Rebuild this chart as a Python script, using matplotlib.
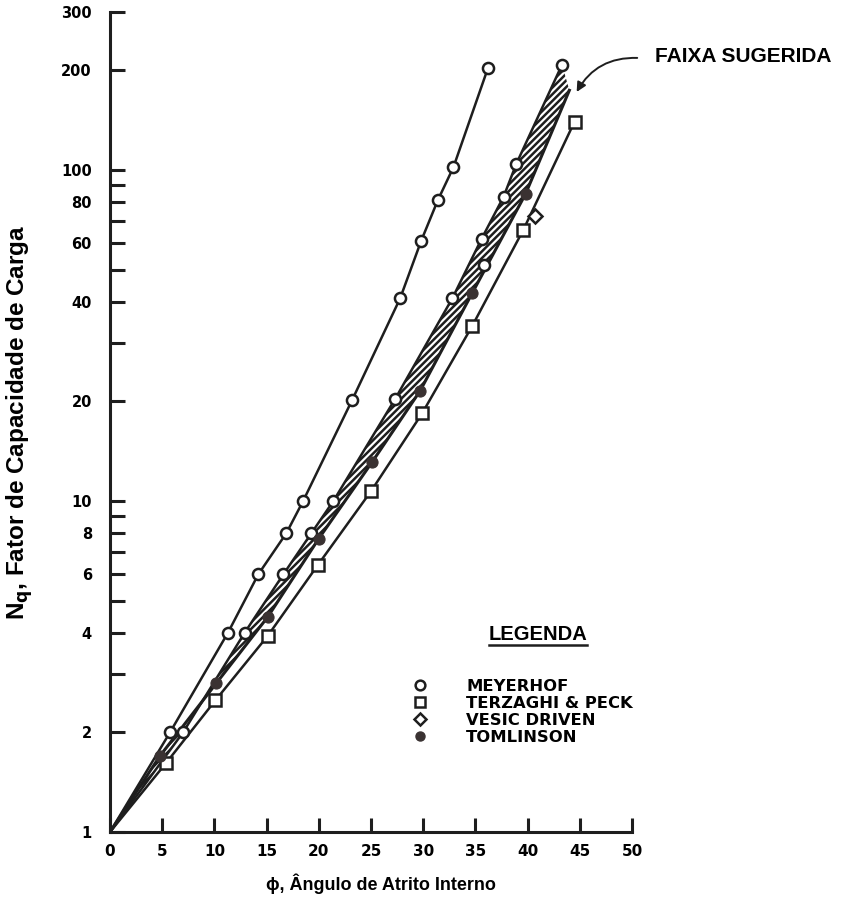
import matplotlib
matplotlib.use('Agg')
import matplotlib.pyplot as plt
from matplotlib.lines import Line2D
from matplotlib.ticker import FixedLocator, FixedFormatter, NullLocator

# ---- data ----
phi_meyerhof = [0, 5.75, 11.3, 14.2, 16.9, 18.5, 23.2, 27.8, 29.8, 31.4, 32.9, 36.2]
nq_meyerhof = [1, 2.0, 4.0, 6.0, 8.0, 10.0, 20.2, 41, 61, 81, 102, 203]

phi_band_upper = [0, 7.0, 12.9, 16.6, 19.3, 21.4, 27.3, 32.8, 35.6, 37.7, 38.9, 43.3]
nq_band_upper = [1, 2.0, 4.0, 6.0, 8.0, 10.0, 20.3, 41, 62, 83, 104, 208]

phi_tomlinson = [0, 4.8, 10.2, 15.1, 20.0, 25.1, 29.7, 34.7, 39.8]
nq_tomlinson = [1, 1.7, 2.82, 4.46, 7.7, 13.1, 21.5, 42.5, 84.6]
phi_band_end = [44.0]
nq_band_end = [174]

phi_terzaghi = [0, 5.4, 10.1, 15.1, 19.9, 25.0, 29.9, 34.7, 39.6, 44.5]
nq_terzaghi = [1, 1.62, 2.5, 3.91, 6.4, 10.7, 18.4, 33.8, 66, 140]

phi_vesic = [40.7]
nq_vesic = [72.6]

phi_extra = [35.8]
nq_extra = [51.6]

y_ticks = [1, 2, 3, 4, 5, 6, 7, 8, 9, 10, 20, 30, 40, 50, 60, 70, 80, 90, 100, 200, 300]
y_labeled = [1, 2, 4, 6, 8, 10, 20, 40, 60, 80, 100, 200, 300]
x_ticks = [0, 5, 10, 15, 20, 25, 30, 35, 40, 45, 50]

legend_labels = ['MEYERHOF', 'TERZAGHI & PECK', 'VESIC DRIVEN', 'TOMLINSON']

# ---- figure ----
W, H = 842, 908
fig = plt.figure(figsize=(W / 100, H / 100), dpi=100)
ax = fig.add_axes([110 / W, 76 / H, 522 / W, 820 / H])
ax.set_yscale('log')
ax.set_xlim(0, 50)
ax.set_ylim(1, 300)

ink = '#1e1e1e'
dot = '#3a3232'
lw = 1.8
plt.rcParams['hatch.linewidth'] = 1.8
plt.rcParams['hatch.color'] = ink

# hatched suggested band
band_x = phi_band_upper + phi_band_end + phi_tomlinson[::-1]
band_y = nq_band_upper + nq_band_end + nq_tomlinson[::-1]
ax.fill(band_x, band_y, facecolor='white', edgecolor=ink, hatch='/////', linewidth=0, zorder=1)

# lines
ax.plot(phi_meyerhof, nq_meyerhof, color=ink, lw=lw, zorder=2)
ax.plot(phi_band_upper, nq_band_upper, color=ink, lw=lw, zorder=2)
ax.plot(phi_tomlinson + phi_band_end, nq_tomlinson + nq_band_end, color=ink, lw=lw + 0.4, zorder=2)
ax.plot(phi_terzaghi, nq_terzaghi, color=ink, lw=lw, zorder=2)

mk = dict(markersize=8, markeredgewidth=1.8, markeredgecolor=ink, linestyle='none', zorder=4)
ax.plot(phi_meyerhof[1:], nq_meyerhof[1:], marker='o', markerfacecolor='white', **mk)
ax.plot(phi_band_upper[1:], nq_band_upper[1:], marker='o', markerfacecolor='white', **mk)
ax.plot(phi_extra, nq_extra, marker='o', markerfacecolor='white', **mk)
ax.plot(phi_terzaghi[1:], nq_terzaghi[1:], marker='s', markerfacecolor='white', **mk)
ax.plot(phi_vesic, nq_vesic, marker='D', markerfacecolor='white',
        markersize=7, markeredgewidth=1.8, markeredgecolor=ink, linestyle='none', zorder=4)
ax.plot(phi_tomlinson[1:], nq_tomlinson[1:], marker='o', markerfacecolor=dot,
        markersize=8, markeredgewidth=0.8, markeredgecolor=dot, linestyle='none', zorder=4)

# axes styling
for s in ['top', 'right']:
    ax.spines[s].set_visible(False)
for s in ['left', 'bottom']:
    ax.spines[s].set_linewidth(2.2)
    ax.spines[s].set_color(ink)

ax.yaxis.set_major_locator(FixedLocator(y_ticks))
ax.yaxis.set_major_formatter(FixedFormatter([str(v) if v in y_labeled else '' for v in y_ticks]))
ax.yaxis.set_minor_locator(NullLocator())
ax.set_xticks(x_ticks)
ax.set_xticklabels([str(v) for v in x_ticks])

ax.tick_params(axis='y', which='both', direction='in', length=11, width=2.2, color=ink, pad=13)
ax.tick_params(axis='x', which='both', direction='in', length=10, width=2.2, color=ink, pad=9)
for lab in ax.get_yticklabels():
    lab.set_fontfamily('DejaVu Sans'); lab.set_fontweight('bold'); lab.set_fontsize(10.5)
for lab in ax.get_xticklabels():
    lab.set_fontfamily('DejaVu Sans'); lab.set_fontweight('bold'); lab.set_fontsize(11)

# axis titles
fig.text(20 / W, 1 - 422 / H, r'N$_\mathbf{q}$, Fator de Capacidade de Carga', rotation=90,
         ha='center', va='center', fontsize=17.5, fontweight='bold',
         family=['Liberation Sans', 'DejaVu Sans'])
fig.text(381 / W, 1 - 884 / H, 'ϕ, Ângulo de Atrito Interno', ha='center', va='center',
         fontsize=13, fontweight='bold', family=['Liberation Sans', 'DejaVu Sans'])

# suggested band annotation
fig.text(655 / W, 1 - 57 / H, 'FAIXA SUGERIDA', ha='left', va='center', fontsize=15,
         fontweight='bold', family=['Liberation Sans', 'DejaVu Sans'])
ax.annotate('', xy=(44.7, 172), xytext=(50.5, 218), annotation_clip=False,
            arrowprops=dict(arrowstyle='-|>', color=ink, lw=1.4, mutation_scale=14,
                            connectionstyle='arc3,rad=0.3', shrinkA=0, shrinkB=0))

# legend
t = fig.text(538 / W, 1 - 634 / H, 'LEGENDA', ha='center', va='center', fontsize=14.5,
             fontweight='bold', family=['Liberation Sans', 'DejaVu Sans'])
fig.canvas.draw()
bb = t.get_window_extent().transformed(fig.transFigure.inverted())
fig.add_artist(Line2D([bb.x0, bb.x1], [bb.y0 - 0.002, bb.y0 - 0.002],
                      transform=fig.transFigure, color=ink, lw=1.8))

handles = [
    Line2D([], [], marker='o', markersize=7, markerfacecolor='white', markeredgecolor=ink,
           markeredgewidth=1.8, linestyle='none'),
    Line2D([], [], marker='s', markersize=6.5, markerfacecolor='white', markeredgecolor=ink,
           markeredgewidth=1.8, linestyle='none'),
    Line2D([], [], marker='D', markersize=6.5, markerfacecolor='white', markeredgecolor=ink,
           markeredgewidth=1.8, linestyle='none'),
    Line2D([], [], marker='o', markersize=6.5, markerfacecolor=dot, markeredgecolor=dot,
           linestyle='none'),
]
fig.legend(handles, legend_labels, loc='upper left', bbox_to_anchor=(412 / W, 1 - 679 / H),
           frameon=False, borderpad=0, borderaxespad=0, handlelength=1.0, handletextpad=2.3,
           labelspacing=0.12, prop=dict(family='DejaVu Sans', weight='bold', size=11.8))

fig.savefig('out.png', dpi=100)
